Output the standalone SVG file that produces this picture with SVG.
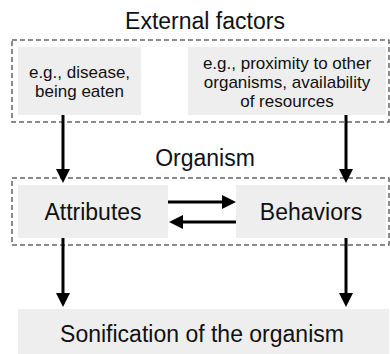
<svg xmlns="http://www.w3.org/2000/svg" width="390" height="354" viewBox="0 0 390 354">
<defs>
<style>
text{font-family:"Liberation Sans",Arial,Helvetica,sans-serif;fill:#111;text-anchor:middle}
.t{font-size:23px}
.s{font-size:17px}
.box{fill:#eeeeee}
.dash{fill:none;stroke:#666;stroke-width:1.5;stroke-dasharray:5 3}
.ar{stroke:#000;stroke-width:3;fill:none;marker-end:url(#ah)}
</style>
<marker id="ah" markerUnits="userSpaceOnUse" markerWidth="14" markerHeight="14" refX="0" refY="7" orient="auto" viewBox="0 0 14 14">
<path d="M0,0 L14,7 L0,14 z" fill="#000"/>
</marker>
</defs>
<g id="external-group">
<rect class="dash" x="12" y="40" width="377" height="82"/>
<text class="t" x="205" y="29">External factors</text>
</g>
<g id="ext-left">
<rect class="box" x="18" y="47" width="123" height="68"/>
<text class="s" x="79.5" y="77.5">e.g., disease,</text>
<text class="s" x="79.5" y="96.7">being eaten</text>
</g>
<g id="ext-right">
<rect class="box" x="188" y="47" width="198" height="68"/>
<text class="s" x="287" y="68.8">e.g., proximity to other</text>
<text class="s" x="287" y="88">organisms, availability</text>
<text class="s" x="287" y="107.2">of resources</text>
</g>
<g id="organism-group">
<rect class="dash" x="12" y="178" width="377" height="67"/>
<text class="t" x="205" y="166">Organism</text>
</g>
<g id="attributes">
<rect class="box" x="18" y="185" width="150" height="53"/>
<text class="t" x="93" y="220">Attributes</text>
</g>
<g id="behaviors">
<rect class="box" x="236" y="185" width="150" height="53"/>
<text class="t" x="311" y="220">Behaviors</text>
</g>
<g id="sonification">
<rect class="box" x="18" y="309" width="371" height="45"/>
<text class="t" x="202" y="342">Sonification of the organism</text>
</g>
<g id="connectors">
<line class="ar" x1="63" y1="115" x2="63" y2="169"/>
<line class="ar" x1="346" y1="115" x2="346" y2="169"/>
<line class="ar" x1="168" y1="202" x2="222" y2="202"/>
<line class="ar" x1="236" y1="222" x2="183" y2="222"/>
<line class="ar" x1="63" y1="238" x2="63" y2="293"/>
<line class="ar" x1="346" y1="238" x2="346" y2="293"/>
</g>
</svg>
